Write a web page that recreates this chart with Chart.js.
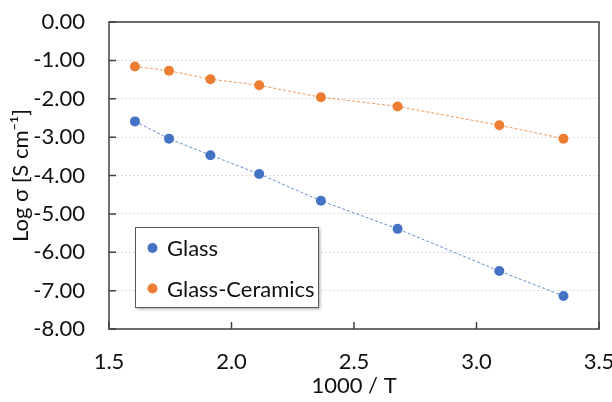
<!DOCTYPE html>
<html>
<head>
<meta charset="utf-8">
<script src="https://cdn.jsdelivr.net/npm/chart.js@4"></script>
<style>
  body { margin: 0; background: #fff; }
  #grafico { display: block; }
</style>
</head>
<body>
<canvas id="grafico" width="612" height="402"></canvas>
<script>
// 1000/T (eje x) y log(sigma) de cada muestra
const invT = [1.606, 1.745, 1.914, 2.113, 2.365, 2.678, 3.093, 3.355];
const logGlass = [-2.59, -3.04, -3.47, -3.96, -4.66, -5.39, -6.49, -7.14];
const logGlassCeramics = [-1.16, -1.27, -1.49, -1.65, -1.96, -2.20, -2.69, -3.04];

const nombres = ["Glass", "Glass-Ceramics"];
const colores = ["#4472C4", "#ED7D31"];
const coloresLinea = ["rgba(68,114,196,0.8)", "rgba(237,125,49,0.8)"];

const xTicks = [1.5, 2.0, 2.5, 3.0, 3.5];
const yTicks = [0, -1, -2, -3, -4, -5, -6, -7, -8];

const fuente = "Lato, 'Open Sans', sans-serif";
const tam = 22;
const gris = "#404040";
const texto = "#111";

const series = [logGlass, logGlassCeramics];

const datasets = series.map((vals, k) => ({
  label: nombres[k],
  data: vals.map((v, i) => ({ x: invT[i], y: v })),
  showLine: true,
  borderColor: coloresLinea[k],
  borderWidth: 1,
  borderDash: [3, 2],
  tension: 0,
  pointRadius: 5,
  pointBackgroundColor: colores[k],
  pointBorderColor: colores[k],
  pointBorderWidth: 0
}));

// marco, marcas hacia dentro y leyenda dentro del área
const marco = {
  id: "marco",
  afterDraw(chart) {
    const ctx = chart.ctx;
    const a = chart.chartArea;
    const sx = chart.scales.x, sy = chart.scales.y;
    ctx.save();
    ctx.strokeStyle = gris;
    ctx.lineWidth = 1.5;
    ctx.strokeRect(a.left, a.top, a.right - a.left, a.bottom - a.top);
    ctx.beginPath();
    yTicks.forEach(v => {
      const y = sy.getPixelForValue(v);
      ctx.moveTo(a.left, y);
      ctx.lineTo(a.left + 7, y);
    });
    xTicks.forEach(v => {
      const x = sx.getPixelForValue(v);
      ctx.moveTo(x, a.bottom);
      ctx.lineTo(x, a.bottom - 7);
    });
    ctx.stroke();

    // leyenda
    const lx = 135, ly = 227, lw = 183, lh = 80;
    ctx.shadowColor = "rgba(0,0,0,0.35)";
    ctx.shadowOffsetX = 2;
    ctx.shadowOffsetY = 2;
    ctx.shadowBlur = 3;
    ctx.fillStyle = "#fff";
    ctx.fillRect(lx, ly, lw, lh);
    ctx.shadowColor = "transparent";
    ctx.strokeStyle = "#595959";
    ctx.lineWidth = 1;
    ctx.strokeRect(lx + 0.5, ly + 0.5, lw, lh);
    ctx.font = tam + "px " + fuente;
    ctx.textBaseline = "middle";
    chart.data.datasets.forEach((ds, k) => {
      const cy = ly + 21 + k * 40.5;
      ctx.fillStyle = ds.pointBackgroundColor;
      ctx.beginPath();
      ctx.arc(lx + 17.5, cy, 5, 0, Math.PI * 2);
      ctx.fill();
      ctx.fillStyle = texto;
      ctx.fillText(ds.label, lx + 32, cy + 1);
    });
    ctx.restore();
  }
};

new Chart(document.getElementById("grafico"), {
  type: "scatter",
  data: { datasets },
  plugins: [marco],
  options: {
    responsive: false,
    animation: false,
    layout: { padding: { top: 22, right: 13, left: 0, bottom: 0 } },
    plugins: {
      legend: { display: false },
      tooltip: { enabled: false }
    },
    scales: {
      x: {
        type: "linear",
        min: 1.5,
        max: 3.5,
        afterBuildTicks: s => { s.ticks = xTicks.map(v => ({ value: v })); },
        afterFit: s => { s.height = 73; s.paddingLeft = 0; s.paddingRight = 0; },
        grid: { display: false, drawTicks: false },
        border: { display: false },
        ticks: {
          padding: 20,
          color: texto,
          maxRotation: 0,
          font: { family: fuente, size: tam },
          callback: v => Number(v).toFixed(1)
        },
        title: {
          display: true,
          text: "1000 / T",
          color: texto,
          font: { family: fuente, size: tam },
          padding: { top: 0, bottom: 3 }
        }
      },
      y: {
        min: -8,
        max: 0,
        afterBuildTicks: s => { s.ticks = yTicks.map(v => ({ value: v })); },
        afterFit: s => { s.width = 109; s.paddingTop = 0; s.paddingBottom = 0; },
        grid: { color: "#dcdcdc", lineWidth: 1, drawTicks: false },
        border: { display: false, dash: [2, 2] },
        ticks: {
          padding: 24,
          color: texto,
          font: { family: fuente, size: tam },
          callback: v => Number(v).toFixed(2)
        },
        title: {
          display: true,
          text: "Log σ [S cm⁻¹]",
          color: texto,
          font: { family: fuente, size: tam },
          padding: { top: 8, bottom: 0 }
        }
      }
    }
  }
});
</script>
</body>
</html>
